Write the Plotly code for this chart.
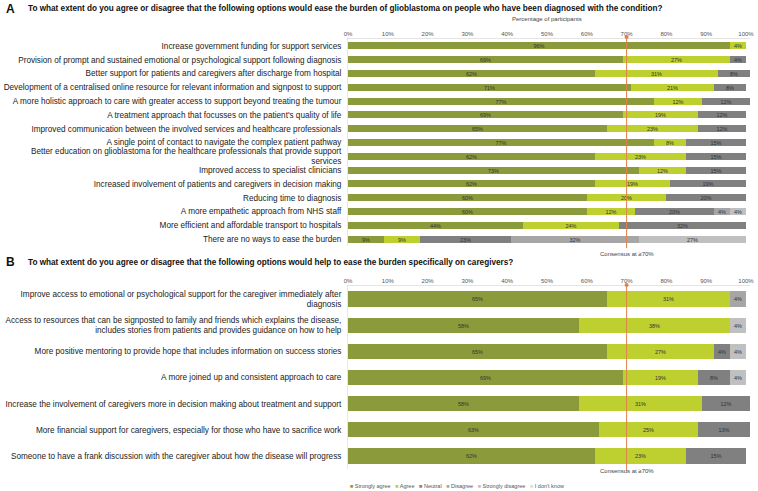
import plotly.graph_objects as go

W, H = 758, 491

# ---------------- data ----------------
responses = ["Strongly agree", "Agree", "Neutral", "Disagree", "Strongly disagree", "I don't know"]
colors = ["#8b9b3b", "#bdd030", "#808080", "#a6a6a6", "#c0c0c0", "#dadada"]

title_a = ("To what extent do you agree or disagree that the following options would ease the burden "
           "of glioblastoma on people who have been diagnosed with the condition?")
title_b = ("To what extent do you agree or disagree that the following options would help to ease "
           "the burden specifically on caregivers?")

cats_a = [
    "Increase government funding for support services",
    "Provision of prompt and sustained emotional or psychological support following diagnosis",
    "Better support for patients and caregivers after discharge from hospital",
    "Development of a centralised online resource for relevant information and signpost to support",
    "A more holistic approach to care with greater access to support beyond treating the tumour",
    "A treatment approach that focusses on the patient's quality of life",
    "Improved communication between the involved services and healthcare professionals",
    "A single point of contact to navigate the complex patient pathway",
    "Better education on glioblastoma for the healthcare professionals that provide support<br>services",
    "Improved access to specialist clinicians",
    "Increased involvement of patients and caregivers in decision making",
    "Reducing time to diagnosis",
    "A more empathetic approach from NHS staff",
    "More efficient and affordable transport to hospitals",
    "There are no ways to ease the burden",
]
a_strongly_agree = [96, 69, 62, 71, 77, 69, 65, 77, 62, 73, 62, 60, 60, 44, 9]
a_agree          = [4, 27, 31, 21, 12, 19, 23, 8, 23, 12, 19, 20, 12, 24, 9]
a_neutral        = [0, 4, 8, 8, 12, 12, 12, 15, 15, 15, 19, 20, 20, 32, 23]
a_disagree       = [0, 0, 0, 0, 0, 0, 0, 0, 0, 0, 0, 0, 4, 0, 32]
a_strongly_dis   = [0, 0, 0, 0, 0, 0, 0, 0, 0, 0, 0, 0, 4, 0, 27]
a_dont_know      = [0] * 15

cats_b = [
    "Improve access to emotional or psychological support for the caregiver immediately after<br>diagnosis",
    "Access to resources that can be signposted to family and friends which explains the disease,<br>includes stories from patients and provides guidance on how to help",
    "More positive mentoring to provide hope that includes information on success stories",
    "A more joined up and consistent approach to care",
    "Increase the involvement of caregivers more in decision making about treatment and support",
    "More financial support for caregivers, especially for those who have to sacrifice work",
    "Someone to have a frank discussion with the caregiver about how the disease will progress",
]
b_strongly_agree = [65, 58, 65, 69, 58, 63, 62]
b_agree          = [31, 38, 27, 19, 31, 25, 23]
b_neutral        = [0, 0, 4, 8, 12, 13, 15]
b_disagree       = [4, 0, 0, 0, 0, 0, 0]
b_strongly_dis   = [0, 4, 4, 4, 0, 0, 0]
b_dont_know      = [0] * 7

ticks = list(range(0, 101, 10))
CONSENSUS = 70

series_a = [a_strongly_agree, a_agree, a_neutral, a_disagree, a_strongly_dis, a_dont_know]
series_b = [b_strongly_agree, b_agree, b_neutral, b_disagree, b_strongly_dis, b_dont_know]

# ---------------- figure ----------------
FONT = "Liberation Sans, Arial, Helvetica, sans-serif"
fig = go.Figure()

def add_panel(cats, series, xa, ya, width):
    for name, col, vals in zip(responses, colors, series):
        fig.add_trace(go.Bar(
            y=cats, x=vals, orientation="h", name=name,
            marker=dict(color=col, line=dict(width=0)),
            width=width,
            text=[f"{v}%" if v else "" for v in vals],
            textposition="inside", insidetextanchor="middle",
            textfont=dict(size=5.5, color="#333333", family=FONT),
            hoverinfo="x+y+name", showlegend=False,
            xaxis=xa, yaxis=ya, cliponaxis=False,
        ))

add_panel(cats_a, series_a, "x", "y", 0.5)
add_panel(cats_b, series_b, "x2", "y2", 0.58)

def px_x(p):
    return p / W

def px_y(p):
    return 1 - p / H

X0, X100 = 348, 746
XMAX = 101
xdom = [px_x(X0), px_x(X0 + (X100 - X0) * XMAX / 100)]
ydom_a = [px_y(246), px_y(39)]
ydom_b = [px_y(469), px_y(286)]

xcommon = dict(range=[0, XMAX], tickvals=ticks, ticktext=[f"{t}%" for t in ticks],
               side="top", showgrid=False, zeroline=False, showline=True,
               linecolor="#e4e4e4", linewidth=1, ticks="", automargin=False,
               tickfont=dict(size=6, color="#555555", family=FONT), domain=xdom, fixedrange=True)
ycommon = dict(autorange="reversed", showgrid=False, zeroline=False, showline=True,
               linecolor="#e8e8e8", ticks="", ticklabelstandoff=4, automargin=False,
               tickfont=dict(size=8.2, color="#222222", family=FONT), fixedrange=True)

fig.update_layout(
    width=W, height=H, margin=dict(l=0, r=0, t=0, b=0, autoexpand=False),
    paper_bgcolor="white", plot_bgcolor="white",
    barmode="stack", bargap=0,
    uniformtext=dict(minsize=5.5, mode="show"),
    xaxis=dict(**xcommon, anchor="y"),
    yaxis=dict(**ycommon, domain=ydom_a, anchor="x"),
    xaxis2=dict(**xcommon, anchor="y2"),
    yaxis2=dict(**ycommon, domain=ydom_b, anchor="x2"),
    font=dict(family=FONT),
)

# consensus lines + dots
orange = "#e0804a"
for xr, yr, ytop in [("x", "y domain", 1.01), ("x2", "y2 domain", 1.0)]:
    fig.add_shape(type="line", xref=xr, yref=yr, x0=CONSENSUS, x1=CONSENSUS, y0=-0.01, y1=ytop,
                  line=dict(color=orange, width=1))
for xr, ypx in [("x", 37), ("x2", 285)]:
    fig.add_shape(type="circle", xref=xr, yref="paper",
                  x0=CONSENSUS - 0.5, x1=CONSENSUS + 0.5,
                  y0=px_y(ypx + 2), y1=px_y(ypx - 2),
                  fillcolor=orange, line=dict(width=0))

ann = []
for letter, txt, ypx in [("A", title_a, 9), ("B", title_b, 262)]:
    ann.append(dict(text=f"<b>{letter}</b>", x=px_x(4), y=px_y(ypx), xref="paper", yref="paper",
                    xanchor="left", yanchor="middle", showarrow=False,
                    font=dict(size=12, color="#111111", family=FONT)))
    ann.append(dict(text=f"<b>{txt}</b>", x=px_x(26), y=px_y(ypx), xref="paper", yref="paper",
                    xanchor="left", yanchor="middle", showarrow=False,
                    font=dict(size=8.2, color="#111111", family=FONT)))

ann.append(dict(text="Percentage of participants", x=px_x((X0 + X100) / 2), y=px_y(19),
                xref="paper", yref="paper", xanchor="center", yanchor="middle", showarrow=False,
                font=dict(size=6, color="#444444", family=FONT)))

for xr, ypx in [("x", 254), ("x2", 471)]:
    ann.append(dict(text="Consensus at ≥70%", x=CONSENSUS, y=px_y(ypx), xref=xr, yref="paper",
                    xanchor="center", yanchor="middle", showarrow=False,
                    font=dict(size=6, color="#444444", family=FONT)))

legend_txt = "   ".join(f"<span style='color:{c}'>■</span> {r}" for r, c in zip(responses, colors))
ann.append(dict(text=legend_txt, x=px_x(348), y=px_y(486), xref="paper", yref="paper",
                xanchor="left", yanchor="middle", showarrow=False,
                font=dict(size=5.5, color="#555555", family=FONT)))

fig.update_layout(annotations=ann)

fig.write_html("out.html", config={"displayModeBar": False},
               post_script="document.body.style.margin='0';")
